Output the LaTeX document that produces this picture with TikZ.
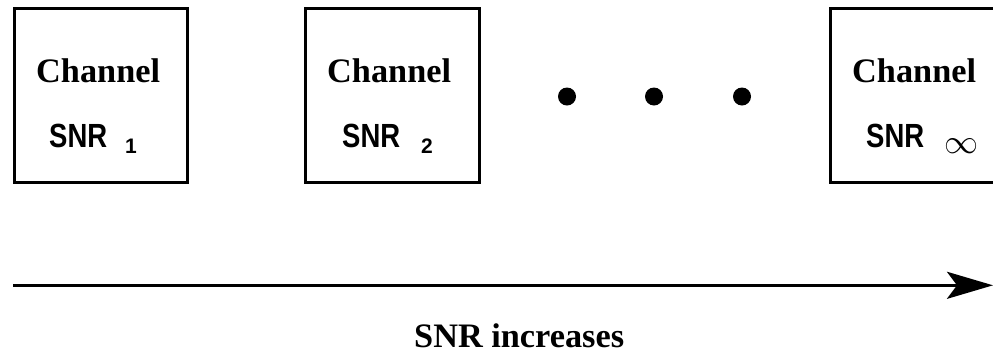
\RequirePackage{fix-cm}
\documentclass[tikz,border=0pt]{standalone}
\usepackage{fontspec}
\setmainfont{Liberation Serif}
\setsansfont{Liberation Sans}
\newfontfamily\narrowsans[FakeStretch=0.82]{Liberation Sans}
\usetikzlibrary{arrows.meta}

\tikzset{
  chanbox/.style={draw,line width=2.7pt,minimum width=173.5pt,minimum height=174.5pt,inner sep=0pt},
  chantext/.style={anchor=base west,inner sep=0pt,font=\bfseries\fontsize{34.3}{40}\selectfont},
  snrtext/.style={anchor=base west,inner sep=0pt,font=\narrowsans\bfseries\fontsize{33.5}{40}\selectfont},
  subtext/.style={anchor=base west,inner sep=0pt,font=\sffamily\bfseries\fontsize{21}{24}\selectfont},
  dot/.style={circle,fill,inner sep=0pt,minimum size=18pt}
}

\begin{document}
\begin{tikzpicture}[x=1pt,y=-1pt]
\useasboundingbox (0,0) rectangle (993,360);
\clip (0,0) rectangle (993,360);
\node[chanbox] (box1) at (101,95.5) {};
\node[chanbox] (box2) at (392.5,95.5) {};
\node[chanbox] (box3) at (917,95.5) {};
\node[chantext] (ch1) at (36,82) {Channel};
\node[chantext] (ch2) at (327,82) {Channel};
\node[chantext] (ch3) at (852,82) {Channel};
\node[snrtext] (snr1) at (49,147) {SNR};
\node[snrtext] (snr2) at (342,147) {SNR};
\node[snrtext] (snr3) at (866,147) {SNR};
\node[subtext] (sub1) at (125,153) {1};
\node[subtext] (sub2) at (421,153) {2};
\node[anchor=base west,inner sep=0pt,font=\fontsize{34}{40}\selectfont] (sub3) at (944,153) {$\infty$};
\node[dot] (dot1) at (567,96.5) {};
\node[dot] (dot2) at (654,96.5) {};
\node[dot] (dot3) at (742,96.5) {};
\coordinate (tail) at (13,285.3);
\coordinate (head) at (993,285.3);
\draw[line width=3pt,-{Stealth[length=46pt,width=27pt,inset=10pt]}] (tail) -- (head);
\node[chantext] (axis) at (414,347) {SNR increases};
\end{tikzpicture}
\end{document}
